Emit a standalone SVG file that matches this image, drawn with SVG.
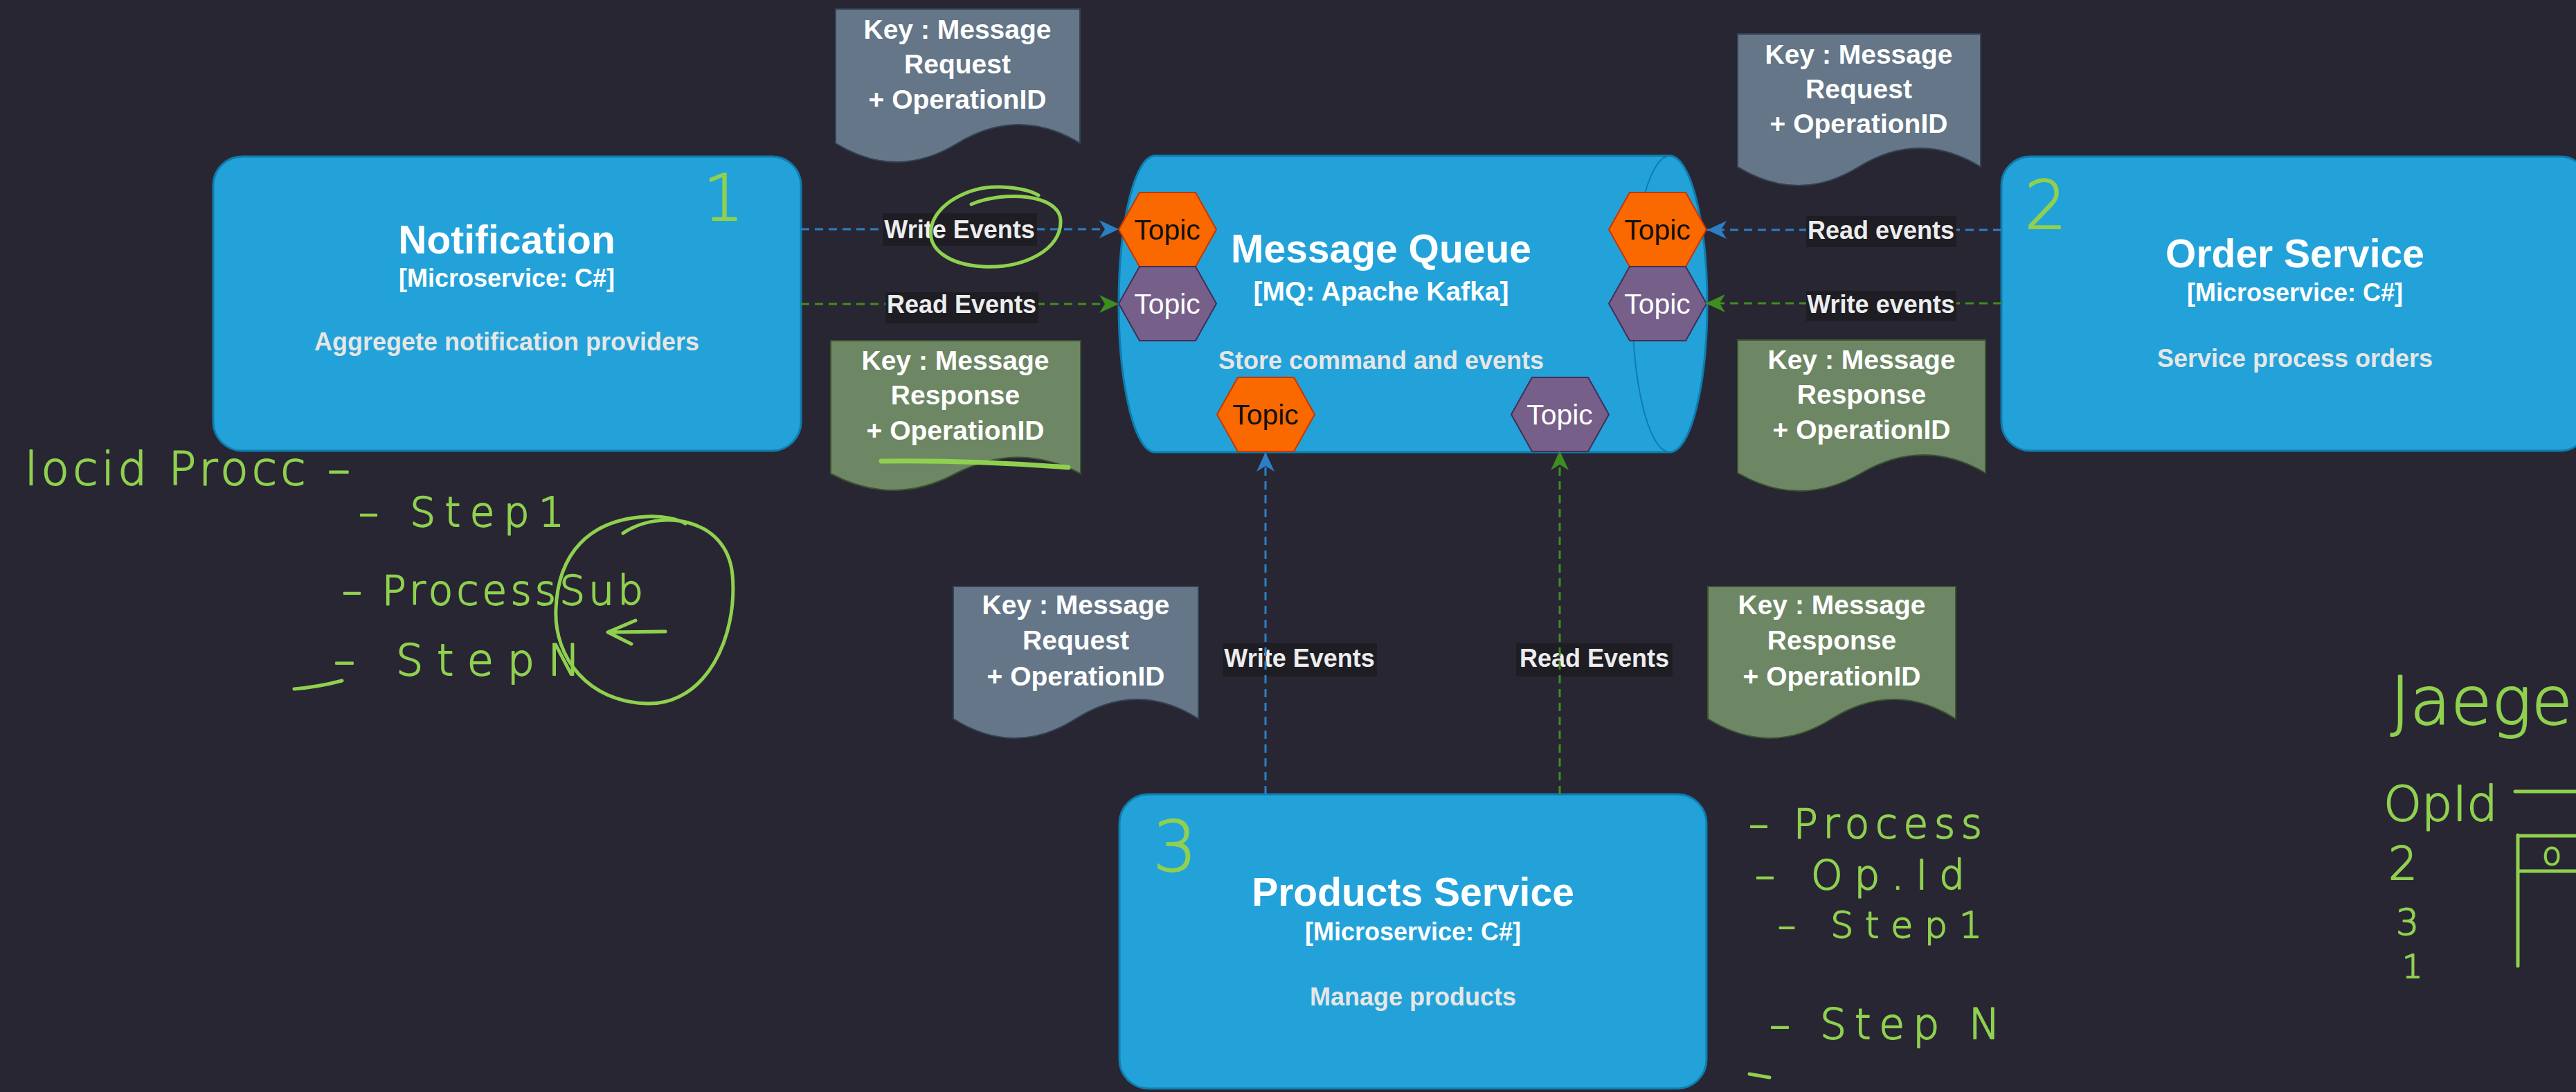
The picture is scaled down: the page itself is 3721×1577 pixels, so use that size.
<svg xmlns="http://www.w3.org/2000/svg" width="3721" height="1577" viewBox="0 0 3721 1577">
<style>
.t{font-family:"Liberation Sans",Arial,sans-serif;font-weight:bold;text-anchor:middle;fill:#ffffff}
.title{font-size:57px}
.tech{font-size:36px}
.desc{font-size:36px;fill:#E6E6E6}
.box{fill:#23A2D9;stroke:#0E7DAD;stroke-width:3}
.ng{fill:#647687;stroke:#314354;stroke-width:2}
.nr{fill:#6D8764;stroke:#3A5431;stroke-width:2}
.nt{font-size:39px}
.ho{fill:#FA6800;stroke:#C73500;stroke-width:2}
.hp{fill:#76608A;stroke:#432D57;stroke-width:2}
.tp{font-family:"Liberation Sans",Arial,sans-serif;font-size:41px;text-anchor:middle}
.eb{fill:none;stroke:#2B80C5;stroke-width:3;stroke-dasharray:12 8}
.eg{fill:none;stroke:#3E8E1F;stroke-width:3;stroke-dasharray:12 8}
.lbg{fill:#1F1D24}
.lt{font-size:36px;fill:#EDEDED}
.hw{font-family:"DejaVu Sans",sans-serif;font-weight:200;fill:#8FD14F;stroke:#8FD14F;stroke-width:1.8;stroke-linejoin:round}
.hs{fill:none;stroke:#8FD14F;stroke-width:5;stroke-linecap:round;stroke-linejoin:round}
</style>
<defs>
<polygon id="hex" points="0,53.5 30,0 111,0 141,53.5 111,107 30,107"/>
<marker id="ab" markerWidth="30" markerHeight="28" refX="28" refY="13" orient="auto" markerUnits="userSpaceOnUse"><path d="M0,0 L28,13 L0,26 L8,13 Z" fill="#2B80C5"/></marker>
<marker id="ag" markerWidth="30" markerHeight="28" refX="28" refY="13" orient="auto" markerUnits="userSpaceOnUse"><path d="M0,0 L28,13 L0,26 L8,13 Z" fill="#3E8E1F"/></marker>
</defs>
<rect width="3721" height="1577" fill="#292633"/>

<g id="notification">
<rect class="box" x="308" y="226" width="849" height="425" rx="42"/>
<text class="t title" x="732" y="366">Notification</text>
<text class="t tech" x="732" y="414">[Microservice: C#]</text>
<text class="t desc" x="732" y="506">Aggregete notification providers</text>
</g>

<g id="order-service">
<rect class="box" x="2891" y="226" width="849" height="425" rx="42"/>
<text class="t title" x="3315" y="386">Order Service</text>
<text class="t tech" x="3315" y="435">[Microservice: C#]</text>
<text class="t desc" x="3315" y="530">Service process orders</text>
</g>

<g id="products-service">
<rect class="box" x="1617" y="1147" width="848" height="425" rx="42"/>
<text class="t title" x="2041" y="1308">Products Service</text>
<text class="t tech" x="2041" y="1358">[Microservice: C#]</text>
<text class="t desc" x="2041" y="1452">Manage products</text>
</g>

<g id="message-queue">
<path class="box" d="M1668 225 H2412 A54 214 0 0 1 2412 653 H1668 A52 214 0 0 1 1668 225 Z"/>
<path d="M2412 225 A54 214 0 0 0 2412 653" fill="none" stroke="#0E7DAD" stroke-width="2"/>
<text class="t title" x="1995" y="379">Message Queue</text>
<text class="t tech" x="1995" y="434" style="font-size:39px">[MQ: Apache Kafka]</text>
<text class="t desc" x="1995" y="533">Store command and events</text>
</g>

<g id="topic-left-write">
<use href="#hex" x="1616" y="278" class="ho"/>
<text class="tp" x="1686" y="346" fill="#111">Topic</text>
</g>
<g id="topic-left-read">
<use href="#hex" x="1616" y="385" class="hp"/>
<text class="tp" x="1686" y="453" fill="#fff">Topic</text>
</g>
<g id="topic-right-read">
<use href="#hex" x="2324" y="278" class="ho"/>
<text class="tp" x="2394" y="346" fill="#111">Topic</text>
</g>
<g id="topic-right-write">
<use href="#hex" x="2324" y="385" class="hp"/>
<text class="tp" x="2394" y="453" fill="#fff">Topic</text>
</g>
<g id="topic-bottom-write">
<use href="#hex" x="1758" y="545" class="ho"/>
<text class="tp" x="1828" y="613" fill="#111">Topic</text>
</g>
<g id="topic-bottom-read">
<use href="#hex" x="2183" y="545" class="hp"/>
<text class="tp" x="2253" y="613" fill="#fff">Topic</text>
</g>

<g id="note-req-1">
<path class="ng" d="M1207 13 H1560 V207 Q1472 153 1383 207 Q1295 261 1207 207 Z"/>
<text class="t nt" x="1383" y="56">Key : Message</text>
<text class="t nt" x="1383" y="106">Request</text>
<text class="t nt" x="1383" y="157">+ OperationID</text>
</g>
<g id="note-resp-1">
<path class="nr" d="M1200 492 H1561 V684 Q1471 637 1380 684 Q1290 732 1200 684 Z"/>
<text class="t nt" x="1380" y="534">Key : Message</text>
<text class="t nt" x="1380" y="584">Response</text>
<text class="t nt" x="1380" y="635">+ OperationID</text>
</g>
<g id="note-req-2">
<path class="ng" d="M2510 49 H2861 V241 Q2773 187 2685 241 Q2598 295 2510 241 Z"/>
<text class="t nt" x="2685" y="92">Key : Message</text>
<text class="t nt" x="2685" y="142">Request</text>
<text class="t nt" x="2685" y="192">+ OperationID</text>
</g>
<g id="note-resp-2">
<path class="nr" d="M2510 491 H2868 V683 Q2779 631 2689 683 Q2600 735 2510 683 Z"/>
<text class="t nt" x="2689" y="533">Key : Message</text>
<text class="t nt" x="2689" y="583">Response</text>
<text class="t nt" x="2689" y="634">+ OperationID</text>
</g>
<g id="note-req-3">
<path class="ng" d="M1377 847 H1731 V1038 Q1643 982 1554 1038 Q1466 1094 1377 1038 Z"/>
<text class="t nt" x="1554" y="887">Key : Message</text>
<text class="t nt" x="1554" y="938">Request</text>
<text class="t nt" x="1554" y="990">+ OperationID</text>
</g>
<g id="note-resp-3">
<path class="nr" d="M2467 847 H2825 V1038 Q2736 982 2646 1038 Q2557 1094 2467 1038 Z"/>
<text class="t nt" x="2646" y="887">Key : Message</text>
<text class="t nt" x="2646" y="938">Response</text>
<text class="t nt" x="2646" y="990">+ OperationID</text>
</g>

<g id="connectors">
<path class="eb" d="M1157 331 H1616" marker-end="url(#ab)"/>
<rect class="lbg" x="1275" y="308" width="223" height="47"/>
<text class="t lt" x="1386" y="344">Write Events</text>
<path class="eg" d="M1157 439 H1616" marker-end="url(#ag)"/>
<rect class="lbg" x="1279" y="422" width="221" height="45"/>
<text class="t lt" x="1389" y="452">Read Events</text>
<path class="eb" d="M2891 332 H2466" marker-end="url(#ab)"/>
<rect class="lbg" x="2609" y="312" width="217" height="45"/>
<text class="t lt" x="2717" y="345">Read events</text>
<path class="eg" d="M2891 438 H2464" marker-end="url(#ag)"/>
<rect class="lbg" x="2609" y="420" width="217" height="44"/>
<text class="t lt" x="2717" y="452">Write events</text>
<rect class="lbg" x="1766" y="929" width="223" height="48"/>
<text class="t lt" x="1877" y="963">Write Events</text>
<path class="eb" d="M1828 1147 V653" marker-end="url(#ab)"/>
<rect class="lbg" x="2190" y="929" width="226" height="48"/>
<text class="t lt" x="2303" y="963">Read Events</text>
<path class="eg" d="M2253 1147 V651" marker-end="url(#ag)"/>
</g>

<g id="annotations">
<text class="hw" x="1045" y="318" font-size="92" text-anchor="middle">1</text>
<text class="hw" x="2955" y="330" font-size="96" text-anchor="middle">2</text>
<text class="hw" x="1697" y="1258" font-size="100" text-anchor="middle">3</text>
<path class="hs" d="M1403 295 C1450 275 1530 280 1532 318 C1534 360 1480 388 1420 385 C1370 382 1340 360 1345 330 C1350 295 1400 268 1445 270 C1470 271 1490 276 1500 282"/>
<path class="hs" style="stroke-width:7" d="M1273 666 Q1400 664 1543 675"/>
<text class="hw" x="36" y="700" font-size="66" textLength="470" lengthAdjust="spacing">locid Procc –</text>
<text class="hw" x="518" y="760" font-size="58" textLength="297" lengthAdjust="spacing">– Step1</text>
<text class="hw" x="494" y="873" font-size="58" textLength="435" lengthAdjust="spacing">– ProcessSub</text>
<text class="hw" x="482" y="975" font-size="62" textLength="356" lengthAdjust="spacing">– StepN</text>
<path class="hs" d="M425 995 Q460 992 494 983"/>
<path class="hs" d="M900 770 C950 735 1050 745 1058 830 C1066 920 1020 1018 935 1016 C850 1014 800 950 803 880 C806 800 850 750 935 746 C960 745 980 750 990 756"/>
<path class="hs" d="M961 912 L880 913 M918 896 L878 913 L912 930"/>
<text class="hw" x="2526" y="1210" font-size="58" textLength="337" lengthAdjust="spacing">– Process</text>
<text class="hw" x="2535" y="1284" font-size="58" textLength="303" lengthAdjust="spacing">– Op.Id</text>
<text class="hw" x="2568" y="1354" font-size="52" textLength="295" lengthAdjust="spacing">– Step1</text>
<text class="hw" x="2556" y="1500" font-size="60" textLength="333" lengthAdjust="spacing">– Step N</text>
<path class="hs" d="M2527 1551 L2556 1556"/>
<text class="hw" x="3453" y="1046" font-size="96">Jaege</text>
<text class="hw" x="3443" y="1185" font-size="70">OpId</text>
<path class="hs" d="M3633 1143 H3721 M3637 1206 V1395 M3637 1207 H3721 M3637 1258 H3721"/>
<text class="hw" x="3450" y="1270" font-size="66">2</text>
<text class="hw" x="3461" y="1350" font-size="52">3</text>
<text class="hw" x="3470" y="1412" font-size="46">1</text>
<text class="hw" x="3672" y="1249" font-size="46">o</text>
</g>
</svg>
